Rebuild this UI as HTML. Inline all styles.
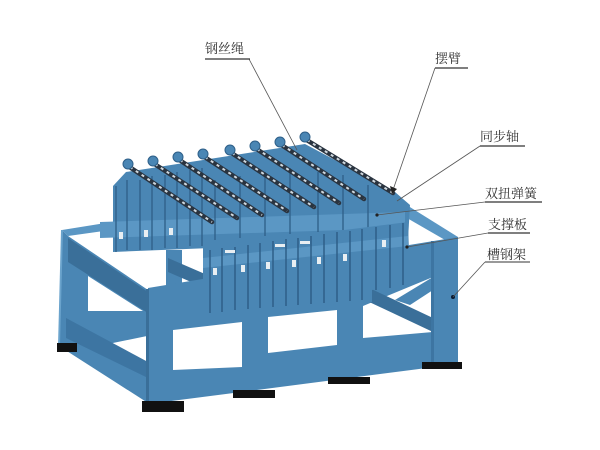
<!DOCTYPE html>
<html><head><meta charset="utf-8"><style>
html,body{margin:0;padding:0;background:#fff;}
svg{display:block;}
text{font-family:"Liberation Serif","Noto Serif CJK SC",serif;font-size:13px;fill:#333;}
</style></head><body>
<svg width="600" height="450" viewBox="0 0 600 450" xmlns="http://www.w3.org/2000/svg">
<!-- back feet -->
<rect x="173" y="331" width="20" height="6" fill="#111"/>
<rect x="268" y="316" width="20" height="6" fill="#111"/>
<rect x="363" y="304" width="16" height="5" fill="#111"/>
<!-- back top beam -->
<polygon points="62,230 118,221 118,229 68,236" fill="#5b97c4"/>
<!-- interior post & beam on left -->
<rect x="166" y="250" width="16" height="76" fill="#4a86b4"/>
<polygon points="168,258 205,274 205,288 168,272" fill="#3a6f99"/>
<!-- interior lower back beam seen through -->
<polygon points="88,310 173,322 173,338 88,330" fill="#4a86b4"/>
<!-- left side panel -->
<polygon points="62,230 68,236 148,290 148,403 59,346" fill="#4a86b4"/>
<polygon points="68,238 148,292 148,313 68,262" fill="#3a6f99"/>
<polygon points="88,276 143,311 88,311" fill="#fff"/>
<polygon points="108,344 147,336 147,366 137,363" fill="#fff"/>
<polygon points="66,318 148,362 148,378 66,338" fill="#3d75a2"/>
<line x1="62" y1="230" x2="59" y2="346" stroke="#6aa3cc" stroke-width="2"/>
<!-- right side top beam -->
<polygon points="397,199 458,237 452,244 400,214" fill="#5b97c4"/>
<!-- front face -->
<polygon points="148,288 458,237 458,364 148,404" fill="#4a86b4"/>
<polygon points="173,330 242,322 242,367 173,370" fill="#fff"/>
<polygon points="268,317 337,310 337,345 268,353" fill="#fff"/>
<polygon points="363,306 433,277 433,332 363,338" fill="#fff"/>
<!-- right interior diagonal beam -->
<polygon points="365,286 433,318 433,332 365,300" fill="#3a6f99"/>
<polygon points="395,300 433,277 433,290 410,305" fill="#4a86b4"/>
<!-- post edge shading -->
<rect x="146" y="289" width="3" height="115" fill="#3a6f99"/>
<rect x="431" y="241" width="3" height="123" fill="#3d75a2"/>
<circle cx="453" cy="297" r="2" fill="#0a1a30"/>
<!-- front feet -->
<rect x="57" y="343" width="20" height="9" fill="#111"/>
<rect x="142" y="401" width="42" height="11" fill="#111"/>
<rect x="233" y="390" width="42" height="8" fill="#111"/>
<rect x="328" y="377" width="42" height="7" fill="#111"/>
<rect x="422" y="362" width="40" height="7" fill="#111"/>
<!-- mechanism: back row -->
<polygon points="113,186 126,172 305,144 395,192 410,205 408,240 113,252" fill="#4a86b4"/>
<polygon points="100,222 405,212 405,228 100,238" fill="#5b97c4"/>
<g stroke="#2e5f88" stroke-width="1.3">
<line x1="116" y1="186" x2="116" y2="252"/><line x1="127" y1="180" x2="127" y2="250"/>
<line x1="140" y1="180" x2="140" y2="250"/><line x1="152" y1="176" x2="152" y2="250"/>
<line x1="165" y1="175" x2="165" y2="248"/><line x1="177" y1="172" x2="177" y2="248"/>
<line x1="190" y1="170" x2="190" y2="246"/><line x1="202" y1="168" x2="202" y2="246"/>
<line x1="215" y1="180" x2="215" y2="240"/><line x1="240" y1="176" x2="240" y2="238"/>
<line x1="265" y1="172" x2="265" y2="236"/><line x1="290" y1="168" x2="290" y2="234"/>
<line x1="318" y1="172" x2="318" y2="232"/><line x1="343" y1="175" x2="343" y2="230"/>
<line x1="368" y1="185" x2="368" y2="228"/>
</g>
<g fill="#e8eef2">
<rect x="119" y="232" width="4" height="7"/><rect x="144" y="230" width="4" height="7"/><rect x="169" y="228" width="4" height="7"/>
</g>
<!-- rods / chains -->
<g>
<g stroke="#2a3440" stroke-width="4.5" stroke-linecap="round">
<line x1="128" y1="166" x2="212" y2="222"/><line x1="153" y1="163" x2="237" y2="218"/>
<line x1="178" y1="159" x2="262" y2="215"/><line x1="203" y1="156" x2="287" y2="211"/>
<line x1="230" y1="152" x2="314" y2="207"/><line x1="255" y1="148" x2="339" y2="203"/>
<line x1="280" y1="144" x2="364" y2="199"/><line x1="305" y1="139" x2="393" y2="193"/>
</g>
<g stroke="#d0d8de" stroke-width="2" stroke-dasharray="3 4">
<line x1="130" y1="167" x2="212" y2="222"/><line x1="155" y1="164" x2="237" y2="218"/>
<line x1="180" y1="160" x2="262" y2="215"/><line x1="205" y1="157" x2="287" y2="211"/>
<line x1="232" y1="153" x2="314" y2="207"/><line x1="257" y1="149" x2="339" y2="203"/>
<line x1="282" y1="145" x2="364" y2="199"/><line x1="307" y1="140" x2="393" y2="193"/>
</g>
<g fill="#4a86b4" stroke="#2e5f88" stroke-width="1">
<circle cx="128" cy="164" r="5"/><circle cx="153" cy="161" r="5"/><circle cx="178" cy="157" r="5"/><circle cx="203" cy="154" r="5"/>
<circle cx="230" cy="150" r="5"/><circle cx="255" cy="146" r="5"/><circle cx="280" cy="142" r="5"/><circle cx="305" cy="137" r="5"/>
</g>
</g>
<!-- front plate row -->
<polygon points="203,248 408,222 410,285 372,290 372,302 203,313" fill="#4a86b4"/>
<polygon points="203,258 408,236 408,246 203,268" fill="#5b97c4"/>
<g stroke="#2e5f88" stroke-width="1.5">
<line x1="210" y1="250" x2="210" y2="313"/><line x1="222" y1="248" x2="222" y2="312"/>
<line x1="235" y1="247" x2="235" y2="310"/><line x1="248" y1="245" x2="248" y2="309"/>
<line x1="260" y1="243" x2="260" y2="308"/><line x1="273" y1="241" x2="273" y2="307"/>
<line x1="286" y1="239" x2="286" y2="306"/><line x1="298" y1="238" x2="298" y2="305"/>
<line x1="311" y1="236" x2="311" y2="304"/><line x1="324" y1="234" x2="324" y2="303"/>
<line x1="337" y1="232" x2="337" y2="302"/><line x1="350" y1="231" x2="350" y2="301"/>
<line x1="362" y1="229" x2="362" y2="300"/><line x1="376" y1="227" x2="376" y2="290"/>
<line x1="390" y1="225" x2="390" y2="288"/><line x1="403" y1="223" x2="403" y2="285"/>
</g>
<g fill="#e8eef2">
<rect x="213" y="268" width="4" height="7"/><rect x="241" y="265" width="4" height="7"/><rect x="266" y="262" width="4" height="7"/>
<rect x="292" y="260" width="4" height="7"/><rect x="317" y="257" width="4" height="7"/><rect x="343" y="254" width="4" height="7"/>
<rect x="382" y="240" width="4" height="7"/>
<rect x="225" y="250" width="10" height="3"/><rect x="275" y="244" width="10" height="3"/><rect x="300" y="241" width="10" height="3"/>
</g>
<!-- leader lines -->
<g stroke="#555" stroke-width="0.8" fill="none">
<line x1="249" y1="59" x2="297" y2="150"/>
<line x1="435" y1="68" x2="393" y2="190"/>
<line x1="480" y1="146" x2="397" y2="201"/>
<line x1="485" y1="202" x2="377" y2="215"/>
<line x1="488" y1="233" x2="407" y2="247"/>
<line x1="485" y1="262" x2="453" y2="297"/>
</g>
<polygon points="390,186 397,189 392,194" fill="#222"/>
<circle cx="377" cy="215" r="1.6" fill="#222"/>
<circle cx="407" cy="247" r="1.6" fill="#222"/>
<!-- labels -->
<text x="205" y="53">钢丝绳</text>
<line x1="205" y1="59" x2="250" y2="59" stroke="#333" stroke-width="1.3"/>
<text x="435" y="63">摆臂</text>
<line x1="435" y1="68" x2="468" y2="68" stroke="#333" stroke-width="1.3"/>
<text x="480" y="141">同步轴</text>
<line x1="480" y1="146" x2="525" y2="146" stroke="#333" stroke-width="1.3"/>
<text x="485" y="198">双扭弹簧</text>
<line x1="485" y1="202" x2="542" y2="202" stroke="#333" stroke-width="1.3"/>
<text x="488" y="229">支撑板</text>
<line x1="488" y1="233" x2="530" y2="233" stroke="#333" stroke-width="1.3"/>
<text x="487" y="259">槽钢架</text>
<line x1="485" y1="262" x2="530" y2="262" stroke="#333" stroke-width="1"/>
</svg>
</body></html>
